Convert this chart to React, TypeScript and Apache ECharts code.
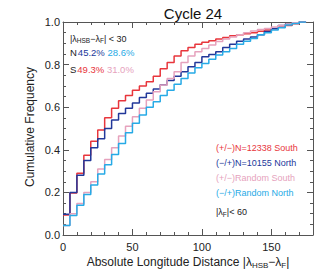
import React, { useEffect, useRef } from "react";
import * as echarts from "echarts";

// Bin left edges (|λHSB − λF| in degrees), last edge closes the final step
const binLeft = [
  0, 5, 10, 15, 20, 25, 30, 35, 40, 45, 50, 55, 60, 65, 70, 75, 80, 85, 90, 95,
  100, 105, 110, 115, 120, 125, 130, 135, 140, 145, 150, 155, 160, 165, 170,
];
const binRightEnd = 175;

const southObserved = [
  0.094, 0.197, 0.29, 0.375, 0.44, 0.493, 0.55, 0.595, 0.63, 0.655, 0.68, 0.7,
  0.72, 0.745, 0.78, 0.81, 0.84, 0.865, 0.88, 0.895, 0.905, 0.912, 0.92, 0.927,
  0.935, 0.94, 0.945, 0.95, 0.957, 0.962, 0.968, 0.975, 0.983, 0.992, 1.0,
];
const northObserved = [
  0.098, 0.2, 0.28, 0.35, 0.41, 0.452, 0.5, 0.54, 0.57, 0.595, 0.62, 0.645,
  0.665, 0.685, 0.705, 0.725, 0.745, 0.767, 0.79, 0.81, 0.837, 0.848, 0.86,
  0.88, 0.895, 0.91, 0.92, 0.93, 0.94, 0.955, 0.97, 0.983, 0.99, 0.995, 1.0,
];
const southRandom = [
  0.045, 0.1, 0.148, 0.2, 0.25, 0.31, 0.355, 0.41, 0.465, 0.51, 0.555, 0.595,
  0.634, 0.673, 0.704, 0.735, 0.767, 0.81, 0.84, 0.86, 0.876, 0.892, 0.908,
  0.92, 0.93, 0.94, 0.95, 0.958, 0.965, 0.97, 0.977, 0.983, 0.99, 0.996, 1.0,
];
const northRandom = [
  0.045, 0.092, 0.14, 0.19, 0.235, 0.286, 0.33, 0.378, 0.43, 0.48, 0.525,
  0.563, 0.6, 0.626, 0.655, 0.68, 0.708, 0.735, 0.76, 0.785, 0.805, 0.825,
  0.845, 0.86, 0.876, 0.895, 0.91, 0.923, 0.94, 0.95, 0.962, 0.973, 0.986,
  0.993, 1.0,
];

const seriesNames = [
  "(+/−)N=12338 South",
  "(−/+)N=10155 North",
  "(+/−)Random South",
  "(−/+)Random North",
];
const statsNorth = ["45.2%", "28.6%"];
const statsSouth = ["49.3%", "31.0%"];

const C_RED = "#e8363c";
const C_BLUE = "#22389a";
const C_PINK = "#e6a2bd";
const C_CYAN = "#27aae6";
const FONT = "Liberation Sans, Arial, Helvetica, sans-serif";

function toSteps(vals: number[]) {
  const pts: number[][] = binLeft.map((x, i) => [x, vals[i]]);
  pts.push([binRightEnd, vals[vals.length - 1]]);
  return pts;
}

const axisColor = "#555";

function xAx(position: "top" | "bottom", interval: number, len: number, line: boolean, labels: boolean) {
  return {
    type: "value",
    min: 0,
    max: 180,
    interval,
    position,
    axisLine: { show: line, onZero: false, lineStyle: { color: axisColor, width: 1 } },
    axisTick: { show: true, inside: true, length: len, lineStyle: { color: axisColor, width: 1 } },
    axisLabel: labels
      ? {
          show: true,
          formatter: (v: number) => (v % 50 === 0 && v <= 150 ? String(v) : ""),
          fontSize: 11,
          color: "#222",
          fontFamily: FONT,
          margin: 6,
        }
      : { show: false },
    splitLine: { show: false },
  };
}

function yAx(position: "left" | "right", labels: boolean) {
  return {
    type: "value",
    min: 0,
    max: 1,
    interval: 0.2,
    position,
    axisLine: { show: true, onZero: false, lineStyle: { color: axisColor, width: 1 } },
    axisTick: { show: true, inside: true, length: 6, lineStyle: { color: axisColor, width: 1 } },
    minorTick: { show: true, splitNumber: 4, length: 3, lineStyle: { color: axisColor, width: 1 } },
    axisLabel: labels
      ? {
          show: true,
          formatter: (v: number) => v.toFixed(1),
          fontSize: 11,
          color: "#222",
          fontFamily: FONT,
          margin: 3,
        }
      : { show: false },
    splitLine: { show: false },
  };
}

export default function App() {
  const ref = useRef<HTMLDivElement>(null);
  useEffect(() => {
    if (!ref.current) return;
    const chart = echarts.init(ref.current, undefined, { renderer: "svg" });
    const sub = { fontSize: 6.5, verticalAlign: "bottom", lineHeight: 9, fontFamily: FONT };
    const subBig = { fontSize: 8, verticalAlign: "bottom", lineHeight: 11, fontFamily: FONT };
    const mkLine = (name: string, data: number[], color: string) => ({
      name,
      type: "line",
      step: "end",
      data: toSteps(data),
      showSymbol: false,
      symbol: "none",
      lineStyle: { color, width: 1.5 },
      xAxisIndex: 0,
      yAxisIndex: 0,
      silent: true,
    });
    chart.setOption({
      animation: false,
      title: {
        text: "Cycle 24",
        left: 188,
        top: 1,
        textAlign: "center",
        textStyle: { fontSize: 15, fontWeight: "normal", color: "#111", fontFamily: FONT },
      },
      grid: { left: 63, right: 19, top: 22, bottom: 42 },
      xAxis: [
        xAx("bottom", 10, 3, true, true),
        xAx("bottom", 50, 6, false, false),
        xAx("top", 10, 3, true, false),
        xAx("top", 50, 6, false, false),
      ],
      yAxis: [yAx("left", true), yAx("right", false)],
      series: [
        mkLine(seriesNames[0], southObserved, C_RED),
        mkLine(seriesNames[1], northObserved, C_BLUE),
        mkLine(seriesNames[2], southRandom, C_PINK),
        mkLine(seriesNames[3], northRandom, C_CYAN),
      ],
      graphic: [
        {
          type: "text",
          x: 30,
          y: 127,
          rotation: Math.PI / 2,
          style: {
            text: "Cumulative Frequency",
            fontSize: 12,
            fontFamily: FONT,
            fill: "#222",
            align: "center",
            verticalAlign: "middle",
          },
        },
        {
          type: "text",
          x: 188,
          y: 262,
          style: {
            text: "Absolute Longitude Distance |λ{s|HSB}−λ{s|F}|",
            fontSize: 12,
            fontFamily: FONT,
            fill: "#222",
            align: "center",
            verticalAlign: "middle",
            lineHeight: 14,
            rich: { s: subBig },
          },
        },
        {
          type: "text",
          x: 70,
          y: 38.5,
          style: {
            text: "|λ{s|HSB}−λ{s|F}| < 30",
            fontSize: 9,
            fontFamily: FONT,
            fill: "#222",
            align: "left",
            verticalAlign: "middle",
            lineHeight: 11,
            rich: { s: sub },
          },
        },
        {
          type: "text",
          x: 70,
          y: 52,
          style: {
            text: `N{b|${statsNorth[0]}} {c|${statsNorth[1]}}`,
            fontSize: 9.5,
            fontFamily: FONT,
            fill: "#222",
            align: "left",
            verticalAlign: "middle",
            rich: {
              b: { fill: C_BLUE, fontSize: 9.5, fontFamily: FONT, padding: [0, 0, 0, 1] },
              c: { fill: C_CYAN, fontSize: 9.5, fontFamily: FONT },
            },
          },
        },
        {
          type: "text",
          x: 70,
          y: 69,
          style: {
            text: `S{r|${statsSouth[0]}} {p|${statsSouth[1]}}`,
            fontSize: 9.5,
            fontFamily: FONT,
            fill: "#222",
            align: "left",
            verticalAlign: "middle",
            rich: {
              r: { fill: C_RED, fontSize: 9.5, fontFamily: FONT, padding: [0, 0, 0, 1] },
              p: { fill: C_PINK, fontSize: 9.5, fontFamily: FONT },
            },
          },
        },
        ...[C_RED, C_BLUE, C_PINK, C_CYAN].map((col, i) => ({
          type: "text",
          x: 216,
          y: [147.5, 162.5, 178, 193][i],
          style: {
            text: seriesNames[i],
            fontSize: 9,
            fontFamily: FONT,
            fill: col,
            align: "left",
            verticalAlign: "middle",
          },
        })),
        {
          type: "text",
          x: 216,
          y: 212,
          style: {
            text: "|λ{s|F}|< 60",
            fontSize: 9,
            fontFamily: FONT,
            fill: "#222",
            align: "left",
            verticalAlign: "middle",
            lineHeight: 11,
            rich: { s: sub },
          },
        },
      ],
    });
    return () => chart.dispose();
  }, []);
  return (
    <div
      ref={ref}
      style={{ position: "absolute", left: 0, top: 0, width: 332, height: 277, background: "#fff" }}
    />
  );
}
